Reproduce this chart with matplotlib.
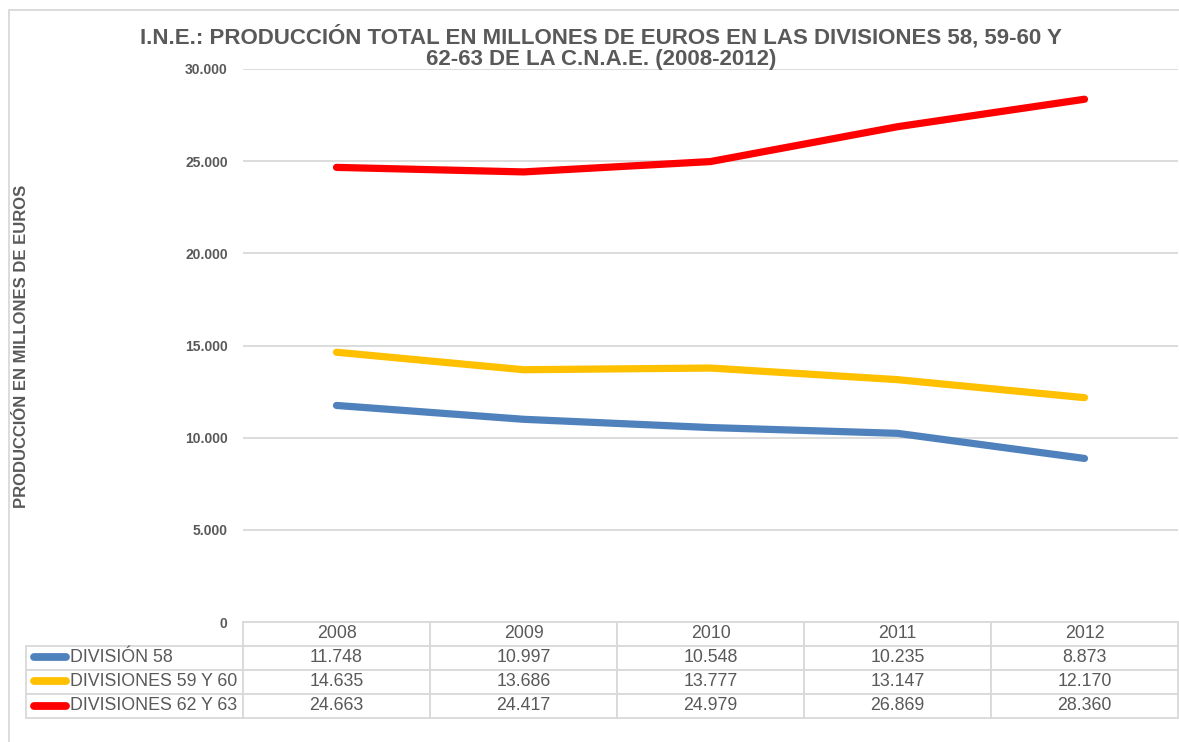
import matplotlib.pyplot as plt
from matplotlib.lines import Line2D
from matplotlib.patches import Rectangle

plt.rcParams['font.family'] = ['Liberation Sans', 'DejaVu Sans']

# data
years = ['2008', '2009', '2010', '2011', '2012']
series_names = ['DIVISIÓN 58', 'DIVISIONES 59 Y 60', 'DIVISIONES 62 Y 63']
div58 = [11748, 10997, 10548, 10235, 8873]
div59_60 = [14635, 13686, 13777, 13147, 12170]
div62_63 = [24663, 24417, 24979, 26869, 28360]
yticks = [0, 5000, 10000, 15000, 20000, 25000, 30000]
ytick_labels = ['0', '5.000', '10.000', '15.000', '20.000', '25.000', '30.000']

colors = ['#4F81BD', '#FFC000', '#FF0000']
grey_txt = '#595959'
grid_col = '#D9D9D9'

W, H = 1179, 742
fig = plt.figure(figsize=(W / 100, H / 100), dpi=100)

# plot area in pixels (left, top, right, bottom)
px_l, px_t, px_r, px_b = 243, 69, 1178, 622
ax = fig.add_axes([px_l / W, 1 - px_b / H, (px_r - px_l) / W, (px_b - px_t) / H])
aw, ah = px_r - px_l, px_b - px_t

all_series = [div58, div59_60, div62_63]
xs = list(range(len(years)))
for vals, c in zip(all_series, colors):
    ax.plot(xs, vals, color=c, lw=5.2, solid_capstyle='round', solid_joinstyle='round', zorder=3)

ax.set_xlim(-0.5, len(years) - 0.5)
ax.set_ylim(0, 30000)
ax.set_yticks(yticks)
ax.set_yticklabels(ytick_labels, fontsize=10, fontweight='bold', color=grey_txt)
ax.set_xticks([])
ax.tick_params(axis='y', length=0, pad=11)
ax.grid(axis='y', color=grid_col, lw=1.3)
ax.set_axisbelow(True)
for s in ax.spines.values():
    s.set_visible(False)

# data table under the plot, first column holds the series names
label_w = 217
cell_text = [[name] + [f'{v:,}'.replace(',', '.') for v in vals]
             for name, vals in zip(series_names, all_series)]
col_widths = [label_w / aw] + [1 / len(years)] * len(years)
tab = ax.table(cellText=cell_text, colLabels=[''] + years, colWidths=col_widths,
               cellLoc='center', colLoc='center',
               bbox=[-label_w / aw, (px_b - 718) / ah, 1 + label_w / aw, 96 / ah])
tab.auto_set_font_size(False)
tab.set_fontsize(12.8)
for (r, c), cell in tab.get_celld().items():
    cell.set_edgecolor(grid_col)
    cell.set_linewidth(1.3)
    cell.get_text().set_color(grey_txt)
    if c == 0:
        cell.get_text().set_horizontalalignment('left')
        cell.PAD = 44 / label_w
tab[0, 0].set_visible(False)

# legend keys inside the label column
row_h = 24.3
for i, c in enumerate(colors):
    yc = (px_b - (645 + row_h * i + row_h / 2)) / ah
    ax.add_line(Line2D([(34 - px_l) / aw, (66 - px_l) / aw], [yc, yc], transform=ax.transAxes,
                       color=c, lw=5.6, solid_capstyle='round', clip_on=False, zorder=5))

fig.text(601 / W, 1 - 37 / H,
         'I.N.E.: PRODUCCIÓN TOTAL EN MILLONES DE EUROS EN LAS DIVISIONES 58, 59-60 Y',
         ha='center', va='center', fontsize=16, fontweight='bold', color=grey_txt)
fig.text(601 / W, 1 - 60 / H, '62-63 DE LA C.N.A.E. (2008-2012)',
         ha='center', va='center', fontsize=16, fontweight='bold', color=grey_txt)
fig.text(22 / W, 1 - 346 / H, 'PRODUCCIÓN EN MILLONES DE EUROS', rotation=90,
         ha='center', va='center', fontsize=12, fontweight='bold', color=grey_txt)

# outer chart frame
fig.add_artist(Rectangle((9 / W, -0.05), 1.0, 1 - 10 / H + 0.05, transform=fig.transFigure,
                         fill=False, edgecolor=grid_col, lw=1.3))

fig.savefig('out.png', dpi=100)
